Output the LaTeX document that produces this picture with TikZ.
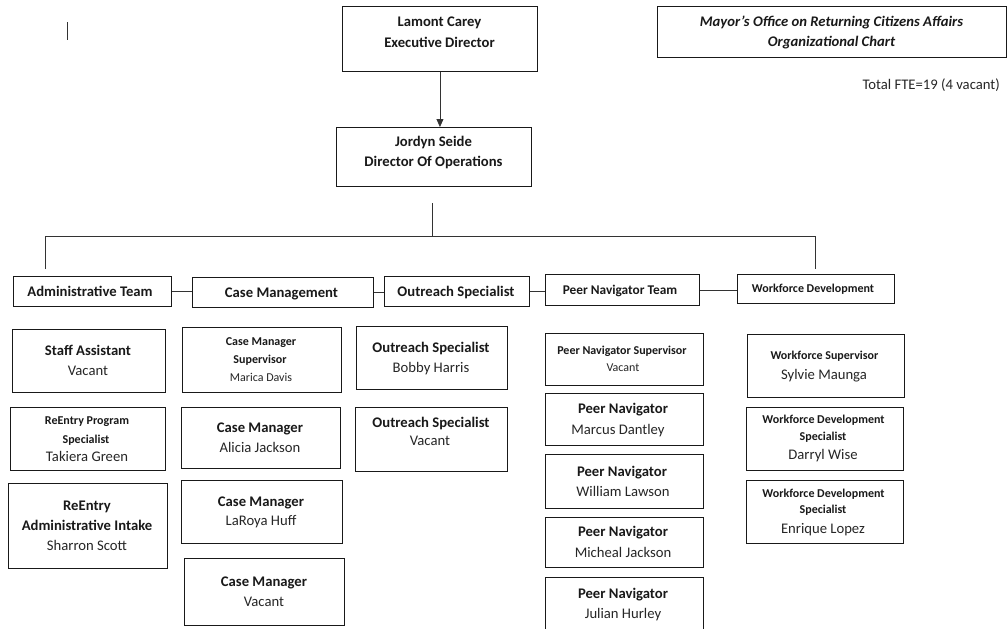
\documentclass[tikz,border=0pt]{standalone}
\usepackage{fontspec}
\setmainfont{Carlito}
\usetikzlibrary{arrows.meta}
\tikzset{
  box/.style={draw=black!90, line width=0.9pt, inner sep=0pt, anchor=north west, rectangle},
  conn/.style={draw=black!80, line width=0.8pt},
  fB/.style={inner sep=0pt, anchor=base, text=black!90, font=\fontsize{14.67}{17}\selectfont\bfseries},
  fR/.style={inner sep=0pt, anchor=base, text=black!85, font=\fontsize{14.67}{17}\selectfont},
  fb/.style={inner sep=0pt, anchor=base, text=black!90, font=\fontsize{12}{14}\selectfont\bfseries},
  fr/.style={inner sep=0pt, anchor=base, text=black!85, font=\fontsize{12}{14}\selectfont},
  fM/.style={inner sep=0pt, anchor=base, text=black!90, font=\fontsize{13.33}{16}\selectfont\bfseries},
  fT/.style={inner sep=0pt, anchor=base, text=black!90, font=\fontsize{14.67}{17}\selectfont\bfseries\itshape},
}
\newcommand\bx[5]{\node[box, minimum width=#4pt, minimum height=#5pt] (#1) at (#2,#3) {};}
\newcommand\tx[5]{\node[#1] (#2) at (#3,#4) {#5};}
\begin{document}
\begin{tikzpicture}[x=1pt,y=-1pt]
\useasboundingbox (0,0) rectangle (1007,629);
\fill[white] (0,0) rectangle (1007,629);

% stray cursor mark
\coordinate (cur1) at (67.5,22);
\coordinate (cur2) at (67.5,40);
\draw[conn] (cur1) -- (cur2);

% top
\bx{lam}{342}{6}{195}{65}
\tx{fB}{lamA}{439.5}{26}{Lamont Carey}
\tx{fB}{lamB}{439.5}{47}{Executive Director}

\bx{jor}{336}{127}{195}{59}
\tx{fB}{jorA}{433.5}{146}{Jordyn Seide}
\tx{fB}{jorB}{433.5}{166}{Director Of Operations}

\draw[conn, -{Triangle[width=7pt,length=8pt]}] (lam.south) -- (lam.south |- jor.north);

\bx{ttl}{657}{6}{349}{51}
\tx{fT}{ttlA}{831.5}{26}{Mayor’s Office on Returning Citizens Affairs}
\tx{fT}{ttlB}{831.5}{46}{Organizational Chart}

\node[fR, anchor=base east] (fte) at (1000,89) {Total FTE=19 (4 vacant)};

% bus
\coordinate (jd) at (432,203);
\coordinate (bl) at (45,236);
\coordinate (br) at (815,236);
\coordinate (bl2) at (45,269);
\coordinate (br2) at (815,269);
\draw[conn] (jd) -- (jd |- bl);
\draw[conn] (bl2) -- (bl) -- (br) -- (br2);

% teams
\bx{adm}{13}{276}{158}{30}
\tx{fB}{admT}{90}{296.5}{Administrative Team}
\bx{cm}{192}{277}{181}{30}
\tx{fB}{cmT}{281.5}{297}{Case Management}
\bx{out}{384}{276}{145}{30}
\tx{fB}{outT}{456}{296}{Outreach Specialist}
\bx{pnt}{545}{274}{154}{31}
\tx{fM}{pntT}{620}{294}{Peer Navigator Team}
\bx{wfd}{737}{274}{157}{29}
\tx{fb}{wfdT}{813}{292}{Workforce Development}

\draw[conn] (adm.east) -- (adm.east -| cm.west);
\draw[conn] (cm.east) -- (cm.east -| out.west);
\draw[conn] (out.east) -- (out.east -| pnt.west);
\draw[conn] (pnt.east) -- (pnt.east -| wfd.west);

% administrative column
\bx{sa}{12}{329}{153}{63}
\tx{fB}{saA}{88}{355}{Staff Assistant}
\tx{fR}{saB}{88}{375}{Vacant}

\bx{rps}{10}{407}{155}{63}
\tx{fb}{rpsA}{87}{424.5}{ReEntry Program}
\tx{fb}{rpsB}{86}{443}{Specialist}
\tx{fR}{rpsC}{87}{461}{Takiera Green}

\bx{rai}{8}{483}{159}{85}
\tx{fB}{raiA}{87}{510}{ReEntry}
\tx{fB}{raiB}{87}{530}{Administrative Intake}
\tx{fR}{raiC}{87}{550}{Sharron Scott}

% case management column
\bx{cms}{182}{327}{159}{65}
\tx{fb}{cmsA}{261}{345}{Case Manager}
\tx{fb}{cmsB}{260}{363.5}{Supervisor}
\tx{fr}{cmsC}{261}{381}{Marica Davis}

\bx{cmA}{181}{407}{159}{61}
\tx{fB}{cmAa}{260}{432}{Case Manager}
\tx{fR}{cmAb}{260}{452}{Alicia Jackson}

\bx{cmB}{181}{480}{161}{63}
\tx{fB}{cmBa}{261}{506}{Case Manager}
\tx{fR}{cmBb}{261}{525}{LaRoya Huff}

\bx{cmC}{184}{558}{160}{67}
\tx{fB}{cmCa}{264}{586}{Case Manager}
\tx{fR}{cmCb}{264}{606}{Vacant}

% outreach column
\bx{osA}{356}{326}{151}{63}
\tx{fB}{osAa}{431}{352.5}{Outreach Specialist}
\tx{fR}{osAb}{431}{372}{Bobby Harris}

\bx{osB}{355}{407}{152}{64}
\tx{fB}{osBa}{431}{427}{Outreach Specialist}
\tx{fR}{osBb}{430}{445.5}{Vacant}

% peer navigator column
\bx{pns}{545}{333}{158}{52}
\tx{fb}{pnsA}{622}{354}{Peer Navigator Supervisor}
\tx{fr}{pnsB}{623}{371}{Vacant}

\bx{pnA}{545}{393}{158}{52}
\tx{fB}{pnAa}{623}{413.5}{Peer Navigator}
\tx{fR}{pnAb}{618}{434}{Marcus Dantley}

\bx{pnB}{545}{454}{158}{54}
\tx{fB}{pnBa}{622}{476}{Peer Navigator}
\tx{fR}{pnBb}{623}{496}{William Lawson}

\bx{pnC}{545}{517}{158}{50}
\tx{fB}{pnCa}{623}{536.5}{Peer Navigator}
\tx{fR}{pnCb}{623}{557}{Micheal Jackson}

\bx{pnD}{545}{577}{158}{68}
\tx{fB}{pnDa}{623}{598}{Peer Navigator}
\tx{fR}{pnDb}{623}{618}{Julian Hurley}

% workforce column
\bx{wfs}{747}{334}{157}{63}
\tx{fb}{wfsA}{824.5}{359}{Workforce Supervisor}
\tx{fR}{wfsB}{824}{379}{Sylvie Maunga}

\bx{wdA}{746}{407}{157}{63}
\tx{fb}{wdAa}{823.5}{423.5}{Workforce Development}
\tx{fb}{wdAb}{823}{440}{Specialist}
\tx{fR}{wdAc}{823}{459}{Darryl Wise}

\bx{wdB}{746}{480}{157}{63}
\tx{fb}{wdBa}{823.5}{497}{Workforce Development}
\tx{fb}{wdBb}{823}{513}{Specialist}
\tx{fR}{wdBc}{823}{533}{Enrique Lopez}
\end{tikzpicture}
\end{document}
